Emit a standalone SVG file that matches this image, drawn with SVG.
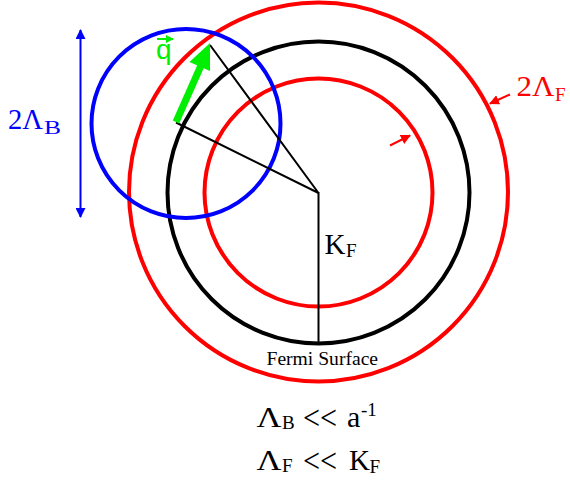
<svg xmlns="http://www.w3.org/2000/svg" width="570" height="483" viewBox="0 0 570 483">
<defs>
<style>
.c{fill:none;stroke-width:4}
.ln{stroke:#000;stroke-width:2;fill:none}
.serif{font-family:"Liberation Serif","Times New Roman",serif}
.big{font-size:30px}
.sub{font-size:19px}
.lt{font-size:34px}
</style>
<marker id="bh" viewBox="0 0 10 10" refX="9" refY="5" markerWidth="5" markerHeight="5" orient="auto-start-reverse" markerUnits="strokeWidth"><path d="M0,0 L10,5 L0,10 z" fill="#0000ff"/></marker>
<marker id="rh" viewBox="0 0 10 10" refX="9" refY="5" markerWidth="5" markerHeight="5" orient="auto" markerUnits="strokeWidth"><path d="M0,0 L10,5 L0,10 z" fill="#ff0000"/></marker>
<marker id="qh" viewBox="0 0 10 10" refX="9" refY="5" markerWidth="4" markerHeight="4" orient="auto" markerUnits="strokeWidth"><path d="M0,0 L10,5 L0,10 z" fill="#00ee00"/></marker>
</defs>
<rect width="570" height="483" fill="#fff"/>
<g id="outer-red"><circle class="c" cx="318.5" cy="192" r="189.5" stroke="#ff0000"/></g>
<g id="fermi-surface"><circle class="c" cx="318.5" cy="192.5" r="151" stroke="#000"/></g>
<g id="inner-red"><circle class="c" cx="318.5" cy="192.5" r="114" stroke="#ff0000"/></g>
<g id="blue-circle"><circle class="c" cx="186" cy="123.5" r="94.5" stroke="#0000ff"/></g>
<g id="connectors">
<polyline class="ln" points="210,45 318.5,193 176,122.5"/>
<line class="ln" x1="318.5" y1="192" x2="318.5" y2="343"/>
<line x1="80.5" y1="30" x2="80.5" y2="217" stroke="#0000ff" stroke-width="2" marker-start="url(#bh)" marker-end="url(#bh)"/>
<line x1="390" y1="145.5" x2="410" y2="135.5" stroke="#ff0000" stroke-width="2" marker-end="url(#rh)"/>
<line x1="510" y1="94.5" x2="490" y2="103.5" stroke="#ff0000" stroke-width="2" marker-end="url(#rh)"/>
<line x1="176" y1="122" x2="207" y2="52" stroke="#00ee00" stroke-width="7"/>
<polygon points="210,43 189.5,62 210,71" fill="#00ee00"/>
</g>
<g id="q-label">
<text x="156" y="59" font-family="Liberation Sans, Arial, sans-serif" font-size="28" fill="#00ee00">q</text>
<line x1="157" y1="39" x2="173" y2="39" stroke="#00ee00" stroke-width="2" marker-end="url(#qh)"/>
</g>
<g id="label-2LB" class="serif" fill="#0000ff">
<text class="big" x="8" y="129" textLength="35" lengthAdjust="spacingAndGlyphs">2Λ</text>
<text class="sub" x="44" y="134" textLength="17" lengthAdjust="spacingAndGlyphs">B</text>
</g>
<g id="label-2LF" class="serif" fill="#ff0000">
<text class="big" x="516.5" y="96" textLength="38" lengthAdjust="spacingAndGlyphs">2Λ</text>
<text class="sub" x="555" y="101">F</text>
</g>
<g id="label-KF" class="serif" fill="#000">
<text class="big" x="324.5" y="253.5" textLength="21" lengthAdjust="spacingAndGlyphs">K</text>
<text class="sub" x="346" y="257">F</text>
</g>
<g id="label-fermi"><text class="serif" x="266.5" y="365" font-size="19.6" fill="#000">Fermi Surface</text></g>
<g id="eq1" class="serif" fill="#000">
<text class="big" x="256.5" y="427" textLength="25" lengthAdjust="spacingAndGlyphs">Λ</text>
<text class="sub" x="282" y="429">B</text>
<text class="lt" x="303" y="429" textLength="34" lengthAdjust="spacingAndGlyphs">&lt;&lt;</text>
<text class="big" x="347" y="427">a</text>
<text class="sub" x="361" y="416">-1</text>
</g>
<g id="eq2" class="serif" fill="#000">
<text class="big" x="256.5" y="470" textLength="25" lengthAdjust="spacingAndGlyphs">Λ</text>
<text class="sub" x="282" y="472">F</text>
<text class="lt" x="303" y="472" textLength="34" lengthAdjust="spacingAndGlyphs">&lt;&lt;</text>
<text class="big" x="349" y="470" textLength="21" lengthAdjust="spacingAndGlyphs">K</text>
<text class="sub" x="369.5" y="473">F</text>
</g>
</svg>
